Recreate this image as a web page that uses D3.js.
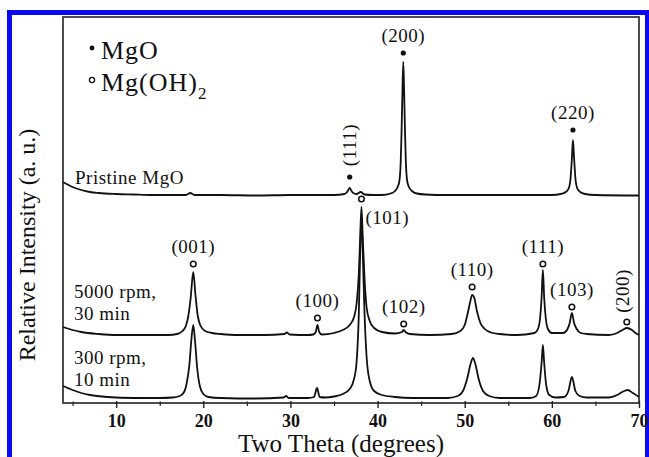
<!DOCTYPE html>
<html>
<head>
<meta charset="utf-8">
<script src="https://cdn.jsdelivr.net/npm/d3@7"></script>
<style>
  html, body { margin: 0; padding: 0; background: #fff; }
  svg { display: block; }
  text { font-family: "Liberation Serif", "Times New Roman", serif; fill: #111; }
</style>
</head>
<body>
<svg id="chart" width="649" height="457"></svg>
<script>
// X-ray diffraction patterns, 2θ in degrees vs. stacked relative intensity (a.u.)
const thetaMajorTicks = [10, 20, 30, 40, 50, 60, 70];
const thetaMinorTicks = [5, 15, 25, 35, 45, 55, 65];

const pristineMgO = [
  [3.9, 221], [5, 216], [6, 213], [7, 211], [8, 210], [10, 209], [12, 208.5], [14, 208],
  [16, 208], [18, 208], [18.5, 210], [19, 208], [22, 208], [26, 207.5], [30, 208], [33, 208],
  [35, 208], [36.2, 209], [36.5, 211], [36.7, 214], [36.8, 215], [36.95, 213], [37.2, 210],
  [37.6, 209], [38.05, 211], [38.5, 208.5], [39.5, 208], [40.5, 208], [41.5, 209.5],
  [42.0, 212], [42.3, 216], [42.5, 222], [42.65, 240], [42.75, 270], [42.85, 310], [42.95, 341],
  [43.05, 310], [43.15, 270], [43.25, 240], [43.4, 222], [43.6, 216], [43.95, 212], [44.5, 209.5],
  [45.5, 208.5], [48, 208], [52, 208], [56, 208], [60, 208], [61.0, 209], [61.6, 211],
  [61.95, 215], [62.15, 225], [62.3, 245], [62.42, 263], [62.55, 245], [62.7, 225], [62.9, 215],
  [63.25, 211], [63.8, 209], [65, 208], [70, 207.5]
];

const rpm5000min30 = [
  [3.9, 76], [5, 73], [6, 71], [8, 69], [10, 68], [14, 68], [16, 68], [17.0, 69], [17.6, 72],
  [18.0, 77], [18.3, 88], [18.55, 105], [18.85, 131], [19.1, 108], [19.35, 88], [19.7, 77],
  [20.2, 72], [21, 70], [22, 69], [24, 68], [27, 68], [29.3, 69], [29.6, 70.5], [29.9, 68.5],
  [32, 68], [32.6, 68.5], [32.9, 71], [33.1, 78], [33.3, 71], [33.6, 68.5], [35, 70], [36, 73],
  [36.8, 78], [37.3, 86], [37.6, 100], [37.85, 130], [38.0, 165], [38.15, 196], [38.3, 165],
  [38.5, 125], [38.75, 95], [39.1, 82], [39.6, 75], [40.5, 71], [42, 69.5], [42.8, 71],
  [43.0, 73], [43.2, 71], [43.7, 69], [46, 68], [48.5, 69], [49.5, 72], [50.0, 78], [50.3, 88],
  [50.6, 100], [50.85, 108], [51.1, 105], [51.4, 92], [51.8, 80], [52.3, 74], [53, 70.5],
  [54, 69], [56, 68], [58.0, 70], [58.4, 74], [58.65, 85], [58.82, 105], [58.97, 133],
  [59.12, 105], [59.3, 85], [59.55, 74], [60.0, 70], [61.3, 70], [61.8, 74], [62.05, 80],
  [62.3, 90], [62.55, 80], [62.85, 74], [63.3, 70], [64, 69], [66.5, 68], [67.5, 70],
  [68.1, 73], [68.6, 75], [69.2, 73], [69.6, 70], [70, 68]
];

const rpm300min10 = [
  [3.9, 17], [5, 13], [6, 10], [7, 8], [9, 6], [12, 5], [15, 5], [16.5, 5.5], [17.3, 7],
  [17.8, 11], [18.1, 20], [18.4, 38], [18.62, 62], [18.85, 78], [19.05, 62], [19.3, 35],
  [19.6, 17], [20.0, 9], [20.6, 6], [22, 5], [26, 4.5], [29.2, 5.5], [29.5, 7], [29.8, 5],
  [32, 5], [32.7, 6], [33.05, 15], [33.35, 6], [34, 5.5], [35, 6.5], [36, 9], [36.8, 14],
  [37.3, 24], [37.6, 42], [37.85, 90], [38.0, 150], [38.15, 185], [38.3, 150], [38.5, 90],
  [38.75, 45], [39.1, 22], [39.6, 12], [40.5, 8], [42, 6], [44, 5], [48, 5], [49.2, 7],
  [49.8, 12], [50.3, 25], [50.7, 40], [50.95, 45], [51.25, 38], [51.6, 24], [52.1, 12],
  [52.8, 7], [54, 5], [57.5, 5], [58.2, 7], [58.6, 20], [58.82, 40], [58.97, 58], [59.12, 40],
  [59.35, 18], [59.7, 8], [60.4, 5.5], [61.4, 6], [61.9, 12], [62.3, 26], [62.7, 12],
  [63.2, 7], [64, 5.5], [66.5, 5.5], [67.5, 8], [68.3, 12], [68.7, 13], [69.3, 10], [70, 6]
];

const traceNames = ["Pristine MgO", "5000 rpm,|30 min", "300 rpm,|10 min"];

// Indexed reflections: (hkl), 2θ and marker intensity
const mgoReflections = [
  { hkl: "(111)", theta: 36.8, marker: 226 },
  { hkl: "(200)", theta: 42.95, marker: 350 },
  { hkl: "(220)", theta: 62.42, marker: 273 }
];
const hydroxideReflections = [
  { hkl: "(001)", theta: 18.85, marker: 139 },
  { hkl: "(100)", theta: 33.1, marker: 85 },
  { hkl: "(101)", theta: 38.15, marker: 204 },
  { hkl: "(102)", theta: 43.0, marker: 79 },
  { hkl: "(110)", theta: 50.85, marker: 116 },
  { hkl: "(111)", theta: 58.97, marker: 139 },
  { hkl: "(103)", theta: 62.3, marker: 96 },
  { hkl: "(200)", theta: 68.6, marker: 81 }
];

const svg = d3.select("#chart");
const margin = { left: 63, top: 17, right: 639, bottom: 403 };

const x = d3.scaleLinear().domain([3.9, 70]).range([margin.left, margin.right]);
const y = d3.scaleLinear().domain([0, 386]).range([margin.bottom, margin.top]);

// outer blue frame
svg.append("rect")
  .attr("x", 9.5).attr("y", 12.5).attr("width", 638).attr("height", 460)
  .attr("fill", "none").attr("stroke", "#0a0af5").attr("stroke-width", 5);

// plot frame
svg.append("rect")
  .attr("x", margin.left).attr("y", margin.top)
  .attr("width", margin.right - margin.left).attr("height", margin.bottom - margin.top)
  .attr("fill", "none").attr("stroke", "#3a3a3a").attr("stroke-width", 1.8);

// bottom axis
const axis = svg.append("g").attr("transform", `translate(0,${margin.bottom})`)
  .call(d3.axisBottom(x).tickValues(thetaMajorTicks).tickSize(5).tickPadding(6));
axis.select(".domain").remove();
axis.selectAll(".tick line").attr("y1", -2).attr("stroke", "#222").attr("stroke-width", 1.4);
axis.selectAll(".tick text")
  .style("font-family", "'Liberation Serif', serif")
  .style("font-size", "18px").style("font-weight", "bold").attr("fill", "#222");

const minor = svg.append("g").attr("transform", `translate(0,${margin.bottom})`)
  .call(d3.axisBottom(x).tickValues(thetaMinorTicks).tickSize(3).tickFormat(""));
minor.select(".domain").remove();
minor.selectAll(".tick line").attr("y1", -1.5).attr("stroke", "#222").attr("stroke-width", 1.2);

// axis titles
svg.append("text")
  .attr("x", 341).attr("y", 452).attr("text-anchor", "middle")
  .style("font-size", "25px")
  .text("Two Theta (degrees)");

svg.append("text")
  .attr("transform", "translate(35,245) rotate(-90)")
  .attr("text-anchor", "middle")
  .style("font-size", "24px")
  .text("Relative Intensity (a. u.)");

// diffraction traces
const line = d3.line().x(d => x(d[0])).y(d => y(d[1])).curve(d3.curveMonotoneX);
[pristineMgO, rpm5000min30, rpm300min10].forEach(trace => {
  svg.append("path").datum(trace)
    .attr("d", line)
    .attr("fill", "none").attr("stroke", "#111").attr("stroke-width", 1.8)
    .attr("stroke-linejoin", "round");
});

// trace names
const nameSpots = [[75, 184], [74, 298], [74, 364]];
traceNames.forEach((name, i) => {
  const t = svg.append("text")
    .attr("x", nameSpots[i][0]).attr("y", nameSpots[i][1])
    .style("font-size", "19px").style("letter-spacing", "0.5px");
  name.split("|").forEach((part, j) => {
    t.append("tspan").attr("x", nameSpots[i][0]).attr("dy", j === 0 ? 0 : 22).text(part);
  });
});

// reflection markers and labels
const labelSize = "19px";
const hklLabel = sel => sel.style("font-size", labelSize).style("letter-spacing", "0.5px");
mgoReflections.forEach(r => {
  const cx = x(r.theta), cy = y(r.marker);
  svg.append("circle").attr("cx", cx).attr("cy", cy).attr("r", 2.6).attr("fill", "#111");
  if (r.hkl === "(111)") {
    svg.append("text")
      .attr("transform", `translate(${cx + 6},${cy - 32}) rotate(-90)`)
      .attr("text-anchor", "middle").call(hklLabel).text(r.hkl);
  } else {
    svg.append("text").attr("x", cx).attr("y", cy - 11)
      .attr("text-anchor", "middle").call(hklLabel).text(r.hkl);
  }
});

hydroxideReflections.forEach(r => {
  const cx = x(r.theta), cy = y(r.marker);
  svg.append("circle").attr("cx", cx).attr("cy", cy).attr("r", 2.8)
    .attr("fill", "#fff").attr("stroke", "#111").attr("stroke-width", 1.5);
  if (r.hkl === "(101)") {
    svg.append("text").attr("x", cx + 4).attr("y", cy + 25)
      .attr("text-anchor", "start").call(hklLabel).text(r.hkl);
  } else if (r.hkl === "(200)") {
    svg.append("text")
      .attr("transform", `translate(${cx + 2},${cy - 31}) rotate(-90)`)
      .attr("text-anchor", "middle").call(hklLabel).text(r.hkl);
  } else {
    svg.append("text").attr("x", cx).attr("y", cy - 11)
      .attr("text-anchor", "middle").call(hklLabel).text(r.hkl);
  }
});

// legend
const legend = svg.append("g");
legend.append("circle").attr("cx", 92).attr("cy", 48).attr("r", 2.4).attr("fill", "#111");
legend.append("text").attr("x", 101).attr("y", 59)
  .style("font-size", "26px").style("letter-spacing", "1px").text("MgO");
legend.append("circle").attr("cx", 92).attr("cy", 80).attr("r", 2.6)
  .attr("fill", "#fff").attr("stroke", "#111").attr("stroke-width", 1.3);
const oh = legend.append("text").attr("x", 101).attr("y", 91)
  .style("font-size", "26px").style("letter-spacing", "1px");
oh.append("tspan").text("Mg(OH)");
oh.append("tspan").attr("dy", 8).style("font-size", "17px").text("2");
</script>
</body>
</html>
